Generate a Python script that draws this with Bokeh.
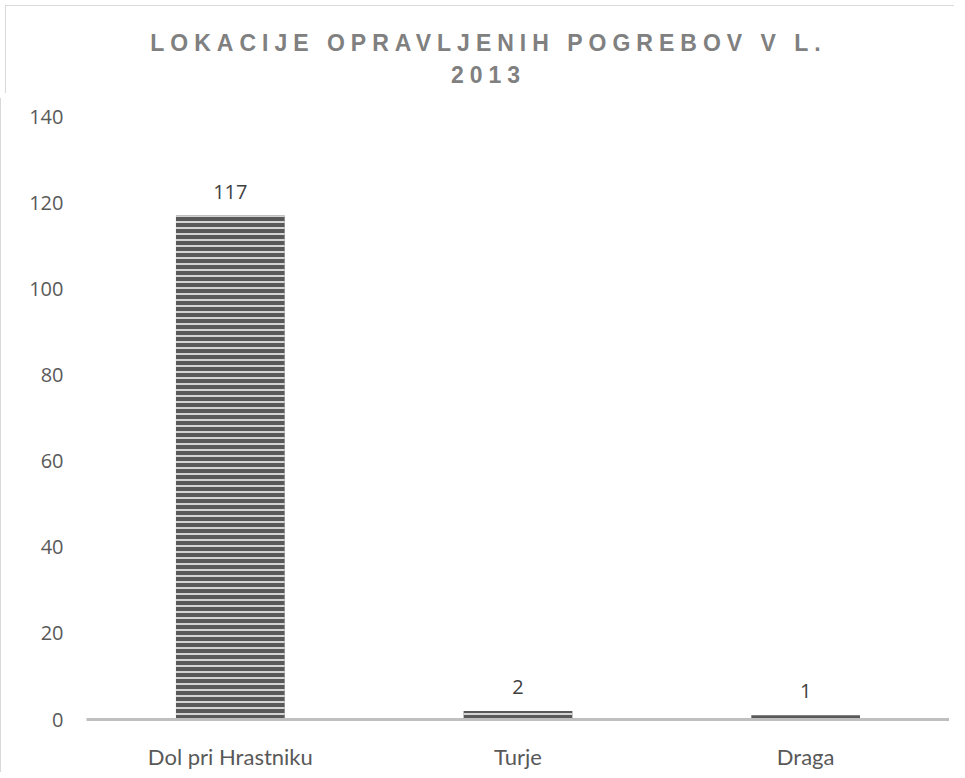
from bokeh.plotting import figure
from bokeh.models import Div, ColumnDataSource, LabelSet, FixedTicker
from bokeh.layouts import column
from bokeh.core.properties import value
from bokeh.embed import file_html
from bokeh.resources import INLINE

categories = ["Dol pri Hrastniku", "Turje", "Draga"]
values = [117, 2, 1]
y_ticks = [0, 20, 40, 60, 80, 100, 120, 140]
title_line1 = "LOKACIJE OPRAVLJENIH POGREBOV V L."
title_line2 = "2013"

src = ColumnDataSource(dict(cat=categories, val=values, lab=[str(v) for v in values]))

title_html = (
    '<div style="font-family: \'Liberation Sans\', Arial, sans-serif; font-weight: bold; '
    'font-size: 23px; line-height: 32px; letter-spacing: 6px; color: #808080; '
    'text-align: center; padding-top: 21px; padding-left: 16px; width: 949px; box-sizing: border-box;">'
    f'{title_line1}<br>{title_line2}</div>'
)
title = Div(
    text=title_html,
    width=949, height=88,
    styles={
        "border-top": "1px solid #d9d9d9",
        "border-left": "1px solid #d9d9d9",
        "box-sizing": "border-box",
    },
)

p = figure(
    x_range=categories, y_range=(0, 140),
    width=949, height=674,
    output_backend="svg", toolbar_location=None,
    min_border_left=85, min_border_right=1, min_border_top=18, min_border_bottom=50,
    styles={"border-left": "1px solid #d9d9d9"},
)
p.x_range.range_padding = 0
p.outline_line_color = None
p.xgrid.grid_line_color = None
p.ygrid.grid_line_color = None
p.background_fill_color = "white"
p.border_fill_color = "white"

p.vbar(x="cat", top="val", width=0.378, source=src,
       fill_color="#595959", line_color=None,
       hatch_pattern="horizontal_line", hatch_scale=6, hatch_weight=2,
       hatch_color="#d4d4d4")

labels = LabelSet(x="cat", y="val", text="lab", source=src,
                  text_align="center", text_baseline="alphabetic", y_offset=17,
                  text_font=value("Open Sans"), text_font_size="20px", text_color="#404040")
p.add_layout(labels)

p.yaxis.ticker = FixedTicker(ticks=y_ticks)
p.yaxis.axis_line_color = None
p.yaxis.major_tick_line_color = None
p.yaxis.minor_tick_line_color = None
p.yaxis.major_tick_out = 0
p.yaxis.major_tick_in = 0
p.yaxis.major_label_standoff = 23
p.yaxis.major_label_text_font = "Open Sans"
p.yaxis.major_label_text_font_size = "20px"
p.yaxis.major_label_text_color = "#595959"

p.xaxis.axis_line_color = "#bfbfbf"
p.xaxis.axis_line_width = 3
p.xaxis.major_tick_line_color = None
p.xaxis.minor_tick_line_color = None
p.xaxis.major_tick_out = 0
p.xaxis.major_tick_in = 0
p.xaxis.major_label_standoff = 23
p.xaxis.major_label_text_font = "Lato"
p.xaxis.major_label_text_font_size = "22px"
p.xaxis.major_label_text_color = "#595959"

layout = column(title, p, spacing=0)
open("out.html", "w").write(file_html(layout, INLINE))
